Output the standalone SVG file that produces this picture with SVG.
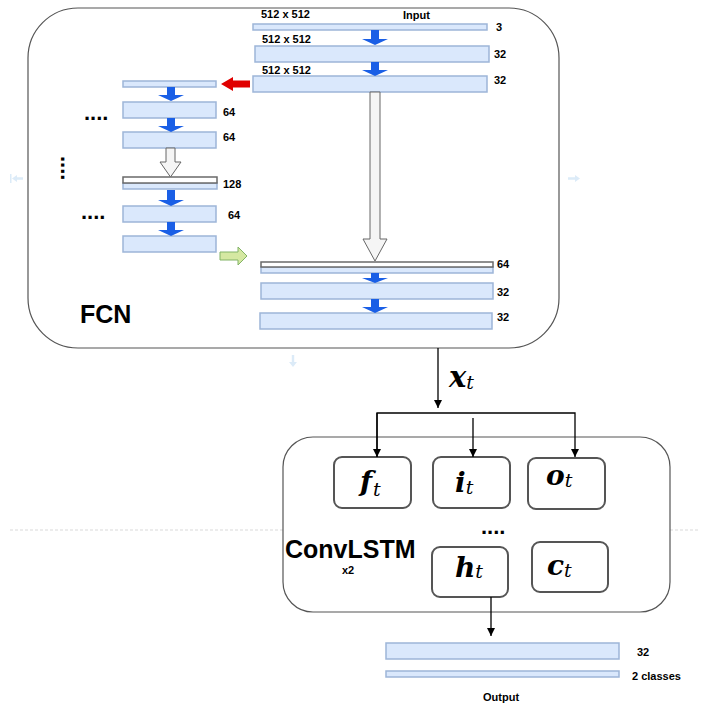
<svg xmlns="http://www.w3.org/2000/svg" width="704" height="704" viewBox="0 0 704 704">
<defs>
<style>
.bar{fill:#dae8fc;stroke:#9db5d8;stroke-width:1.5}
.gap{fill:#ffffff;stroke:#6a6a6a;stroke-width:1.5}
.lbl{font-family:"Liberation Sans",Arial,sans-serif;font-weight:bold;font-size:11px;fill:#000}
.big{font-family:"Liberation Sans",Arial,sans-serif;font-weight:bold;font-size:25px;fill:#000}
.dots{font-family:"Liberation Sans",Arial,sans-serif;font-weight:bold;font-size:22px;fill:#000}
.m{font-family:"DejaVu Serif","Liberation Serif",serif;font-style:italic;font-weight:bold;font-size:28px;fill:#000}
.sub{font-family:"DejaVu Serif","Liberation Serif",serif;font-style:italic;font-weight:normal;font-size:19px;fill:#000}
.blue{fill:#1a5fe6;stroke:none}
.hollow{fill:#f5f5f5;stroke:#666;stroke-width:1}
.line{fill:none;stroke:#000;stroke-width:1.3}
.gate{fill:#fff;stroke:#555;stroke-width:2}
.faint{fill:#dcebf8;stroke:none}
</style>
<marker id="ah" viewBox="0 0 10 10" refX="10" refY="5" markerWidth="8" markerHeight="8" markerUnits="userSpaceOnUse" orient="auto">
<path d="M0 0 L10 5 L0 10 Z" fill="#000"/>
</marker>
</defs>
<rect width="704" height="704" fill="#fff"/>

<g id="background-guides">
<line x1="10" y1="530" x2="700" y2="530" stroke="#cfcfcf" stroke-width="0.8" stroke-dasharray="3 2"/>
<path class="faint" d="M10 174 V183 H11.5 V174 Z M12 178.5 L17 175 V177.3 H23 V179.7 H17 V182 Z"/>
<path class="faint" d="M568 177.3 H575 V175 L580 178.5 L575 182 V179.7 H568 Z"/>
<path class="faint" d="M291.8 355 H294.2 V362 H297 L293 367 L289 362 H291.8 Z"/>
</g>

<g id="fcn">
<rect x="28" y="8" width="531" height="340" rx="50" ry="50" fill="#fff" stroke="#555" stroke-width="1.2"/>
<text class="big" x="80" y="323">FCN</text>
</g>

<g id="encoder-right">
<rect class="bar" x="253" y="24" width="234" height="6"/>
<rect class="bar" x="255" y="46" width="234" height="16"/>
<rect class="bar" x="253" y="76" width="234" height="16"/>
<text class="lbl" x="261" y="18">512 x 512</text>
<text class="lbl" x="403" y="19">Input</text>
<text class="lbl" x="262" y="43">512 x 512</text>
<text class="lbl" x="262" y="74">512 x 512</text>
<text class="lbl" x="496" y="31">3</text>
<text class="lbl" x="494" y="58">32</text>
<text class="lbl" x="494" y="84">32</text>
</g>

<g id="encoder-left">
<rect class="bar" x="123" y="81" width="93" height="6"/>
<rect class="bar" x="123" y="102" width="93" height="16"/>
<rect class="bar" x="123" y="132" width="93" height="16"/>
<rect class="bar" x="123" y="183" width="94" height="6"/>
<rect class="gap" x="123" y="177" width="94" height="6"/>
<rect class="bar" x="123" y="206" width="93" height="16"/>
<rect class="bar" x="123" y="236" width="93" height="16"/>
<text class="lbl" x="223" y="116">64</text>
<text class="lbl" x="223" y="141">64</text>
<text class="lbl" x="223" y="188">128</text>
<text class="lbl" x="228" y="219">64</text>
<text class="dots" x="84" y="120">....</text>
<text class="dots" x="81" y="219">....</text>
<text class="dots" transform="translate(60.5,156) rotate(90)">....</text>
</g>

<g id="decoder">
<rect class="bar" x="261" y="267" width="232" height="6"/>
<rect class="gap" x="261" y="262" width="232" height="5"/>
<rect class="bar" x="261" y="283" width="232" height="16"/>
<rect class="bar" x="260" y="313" width="232" height="16"/>
<text class="lbl" x="497" y="268">64</text>
<text class="lbl" x="497" y="296">32</text>
<text class="lbl" x="497" y="321">32</text>
</g>

<g id="convlstm">
<rect x="283" y="437" width="387" height="175" rx="30" ry="30" fill="#fff" stroke="#555" stroke-width="1.2"/>
<text class="big" x="285" y="558">ConvLSTM</text>
<text class="lbl" x="342" y="574">x2</text>
<text class="dots" x="481" y="534">....</text>
</g>

<g id="gate-f">
<rect class="gate" x="334" y="457" width="77" height="51" rx="8"/>
<text class="m" x="360" y="491">f<tspan class="sub" dx="1" dy="5">t</tspan></text>
</g>
<g id="gate-i">
<rect class="gate" x="433" y="457" width="77" height="51" rx="8"/>
<text class="m" x="455" y="492">i<tspan class="sub" dx="0" dy="2">t</tspan></text>
</g>
<g id="gate-o">
<rect class="gate" x="528" y="458" width="77" height="51" rx="8"/>
<text class="m" x="546" y="485">o<tspan class="sub" dx="0" dy="2">t</tspan></text>
</g>
<g id="gate-h">
<rect class="gate" x="432" y="547" width="76" height="50" rx="8"/>
<text class="m" x="455" y="577">h<tspan class="sub" dx="0" dy="1">t</tspan></text>
</g>
<g id="gate-c">
<rect class="gate" x="532" y="542" width="76" height="50" rx="8"/>
<text class="m" x="547" y="575">c<tspan class="sub" dx="0" dy="2">t</tspan></text>
</g>

<g id="output">
<rect class="bar" x="386" y="643" width="233" height="16"/>
<rect class="bar" x="386" y="671" width="233" height="6"/>
<text class="lbl" x="637" y="656">32</text>
<text class="lbl" x="632" y="680">2 classes</text>
<text class="lbl" x="483" y="701">Output</text>
</g>

<g id="xt-label">
<text class="m" x="449" y="387" style="font-size:29px">x<tspan class="sub" dx="0" dy="2">t</tspan></text>
</g>

<g id="connectors">
<path class="blue" d="M371 30 H379 V39 H388 L375 45 L362 39 H371 Z"/>
<path class="blue" d="M371 62 H379 V70 H388 L375 76 L362 70 H371 Z"/>
<path class="blue" d="M371 273 H379 V278 H388 L375 283 L362 278 H371 Z"/>
<path class="blue" d="M371 299 H379 V307 H388 L375 313 L362 307 H371 Z"/>
<path class="blue" d="M167 87 H175 V95 H184 L171 101 L158 95 H167 Z"/>
<path class="blue" d="M167 118 H175 V126 H184 L171 132 L158 126 H167 Z"/>
<path class="blue" d="M167 190 H175 V200 H184 L171 206 L158 200 H167 Z"/>
<path class="blue" d="M167 222 H175 V230 H184 L171 236 L158 230 H167 Z"/>
<path class="hollow" d="M370 92 H380 V239 H387 L375 261 L363 239 H370 Z"/>
<path class="hollow" d="M166 148 H175 V162 H181 L170.5 177 L160 162 H166 Z"/>
<path d="M221 84 L233 77 V80.5 H250 V87.5 H233 V91 Z" fill="#e00000"/>
<path d="M220 252 H238 V247 L247 256 L238 265 V260 H220 Z" fill="#d5e8a2" stroke="#82b366" stroke-width="1"/>
<line class="line" x1="438" y1="348" x2="438" y2="408" marker-end="url(#ah)"/>
<polyline class="line" points="377,457 377,413 575,413 575,457" marker-end="url(#ah)"/>
<line class="line" x1="377" y1="413" x2="377" y2="457" marker-end="url(#ah)"/>
<line class="line" x1="473" y1="418" x2="473" y2="457" marker-end="url(#ah)"/>
<line class="line" x1="491" y1="597" x2="491" y2="636" marker-end="url(#ah)"/>
</g>
</svg>
